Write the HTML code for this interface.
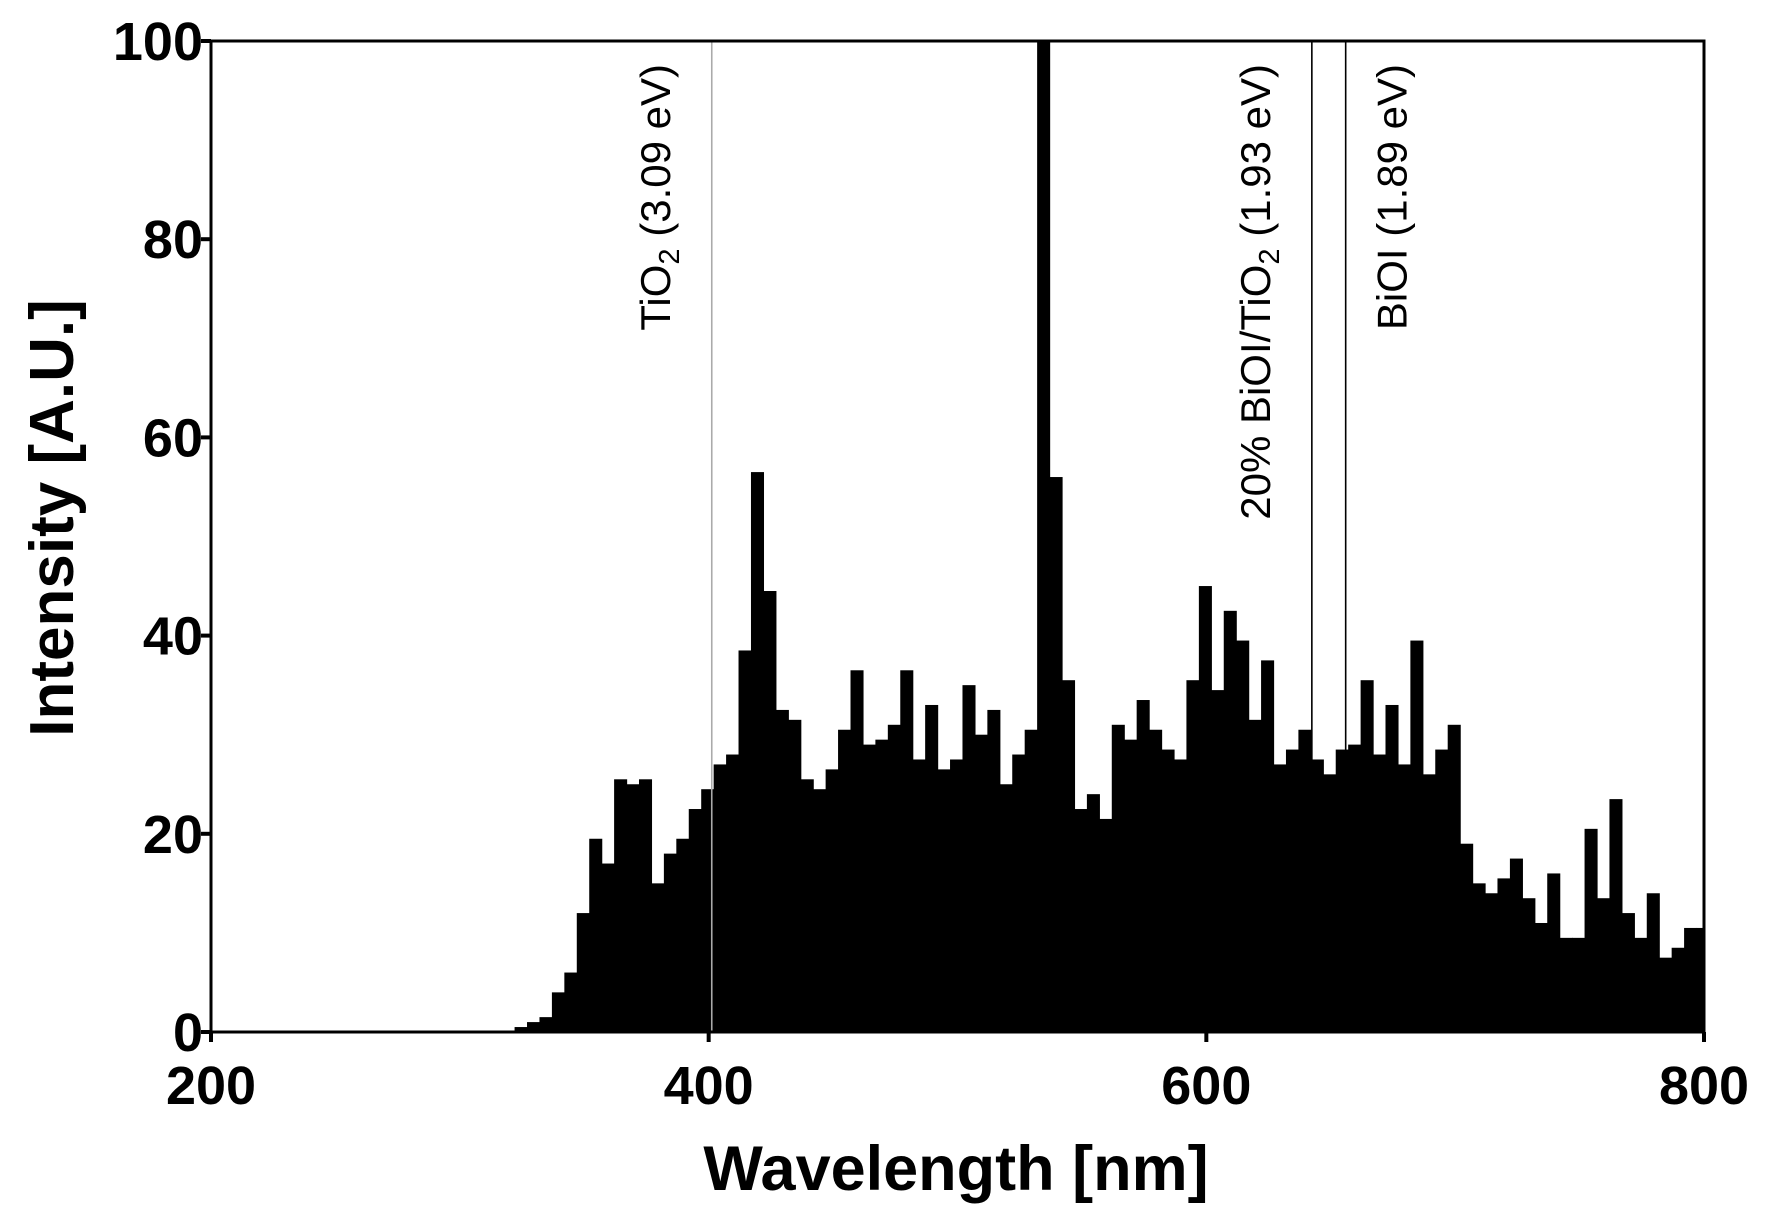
<!DOCTYPE html>
<html><head><meta charset="utf-8"><style>
html,body{margin:0;padding:0;background:#fff;}
svg{display:block;font-family:"Liberation Sans",Arial,sans-serif;}
</style></head><body>
<svg id="chart" width="1767" height="1229" viewBox="0 0 1767 1229" xmlns="http://www.w3.org/2000/svg"></svg>
<script>
const binStart = 322;
const binWidth = 5;
const intensities = [0.5,1,1.5,4,6,12,19.5,17,25.5,25,25.5,15,18,19.5,22.5,24.5,27,28,38.5,56.5,44.5,32.5,31.5,25.5,24.5,26.5,30.5,36.5,29,29.5,31,36.5,27.5,33,26.5,27.5,35,30,32.5,25,28,30.5,100,56,35.5,22.5,24,21.5,31,29.5,33.5,30.5,28.5,27.5,35.5,45,34.5,42.5,39.5,31.5,37.5,27,28.5,30.5,27.5,26,28.5,29,35.5,28,33,27,39.5,26,28.5,31,19,15,14,15.5,17.5,13.5,11,16,9.5,9.5,20.5,13.5,23.5,12,9.5,14,7.5,8.5,10.5,10.5];
const xTicks = [200,400,600,800];
const yTicks = [0,20,40,60,80,100];
const markerEnergies = [3.09,1.93,1.89];
const markerLabels = ["TiO|2| (3.09 eV)","20% BiOI/TiO|2| (1.93 eV)","BiOI (1.89 eV)"];
const markerColors = ["#aaa","#000","#000"];

const L=211,R=1704,T=41,B=1032;
const xMin=200,xMax=800,yMin=0,yMax=100;
const X=v=>L+(v-xMin)/(xMax-xMin)*(R-L);
const Y=v=>B-(v-yMin)/(yMax-yMin)*(B-T);
const svg=document.getElementById('chart');
const NS='http://www.w3.org/2000/svg';
function mk(tag,attrs,parent){const e=document.createElementNS(NS,tag);for(const k in attrs)e.setAttribute(k,attrs[k]);(parent||svg).appendChild(e);return e;}

const bars=mk('g',{});


intensities.forEach((v,i)=>{
  const x0=binStart+i*binWidth, x1=Math.min(x0+binWidth,xMax);
  const top=Y(Math.min(v,yMax));
  const r=mk('rect',{x:X(x0),y:top,width:X(x1)-X(x0)+0.6,height:B-top,fill:'#000'},bars);
  
  
});

markerEnergies.forEach((e,i)=>{
  const nm=1239.84/e, x=X(nm);
  const ln=mk('line',{x1:x,y1:T,x2:x,y2:B,stroke:markerColors[i],'stroke-width':1.6});
  
  
  const tx=x-(i===2?-61:42), ty=64;
  const t=mk('text',{x:0,y:0,transform:`translate(${tx},${ty}) rotate(-90)`,'text-anchor':'end','font-size':42,fill:'#000'});
  
  
  const parts=markerLabels[i].split('|');
  parts.forEach((p,j)=>{
    const s=mk('tspan',{},t);
    if(j===1){s.setAttribute('font-size','29');s.setAttribute('dy','9');}
    if(j===2){s.setAttribute('dy','-9');}
    s.textContent=p;
  });
});

const fr=mk('rect',{x:L,y:T,width:R-L,height:B-T,fill:'none',stroke:'#000','stroke-width':3});



xTicks.forEach(v=>{
  const t=mk('line',{x1:X(v),y1:B,x2:X(v),y2:B+10,stroke:'#000','stroke-width':4});
  
  
  const l=mk('text',{x:X(v),y:1104,'text-anchor':'middle','font-size':54,'font-weight':'bold'});
  
  
  l.textContent=v;
});
yTicks.forEach(v=>{
  const t=mk('line',{x1:L-10,y1:Y(v),x2:L,y2:Y(v),stroke:'#000','stroke-width':4});
  
  
  const l=mk('text',{x:L-8,y:Y(v)+19,'text-anchor':'end','font-size':54,'font-weight':'bold'});
  
  
  l.textContent=v;
});

const xt=mk('text',{x:956,y:1190,'text-anchor':'middle','font-size':63,'font-weight':'bold'});


xt.textContent='Wavelength [nm]';
const yt=mk('text',{x:0,y:0,transform:'translate(73,518) rotate(-90)','text-anchor':'middle','font-size':62,'font-weight':'bold'});


yt.textContent='Intensity [A.U.]';
</script>
</body></html>
